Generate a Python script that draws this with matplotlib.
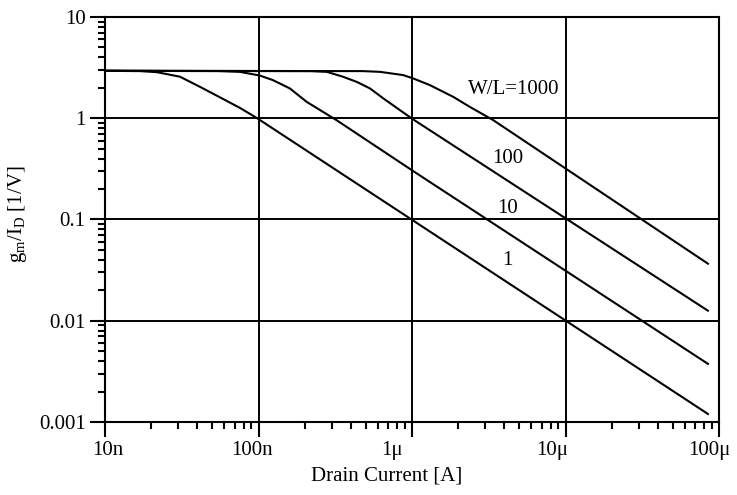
import matplotlib
matplotlib.use("Agg")
import matplotlib.pyplot as plt
import matplotlib.transforms as mtransforms
from matplotlib.ticker import FixedLocator, LogLocator, NullFormatter

plt.rcParams['font.family'] = ['Liberation Serif', 'DejaVu Serif']
plt.rcParams['mathtext.fontset'] = 'custom'
plt.rcParams['mathtext.rm'] = 'Liberation Serif'

# drain current [A] and gm/ID [1/V]
id_wl1 = [1e-8, 1.69e-8, 2.18e-8, 3.08e-8, 4.16e-8, 5.6e-8, 7.6e-8, 9.8e-8, 8.47e-5]
gm_wl1 = [2.94, 2.92, 2.85, 2.57, 2.04, 1.61, 1.26, 1.00, 0.0012]

id_wl10 = [1e-8, 5.5e-8, 7.57e-8, 1.02e-7, 1.24e-7, 1.6e-7, 2.06e-7, 3.23e-7, 1.02e-6, 8.47e-5]
gm_wl10 = [2.94, 2.92, 2.87, 2.64, 2.38, 1.97, 1.45, 0.955, 0.30, 0.00375]

id_wl100 = [1e-8, 2.2e-7, 2.79e-7, 3.55e-7, 4.38e-7, 5.32e-7, 6.5e-7, 1.0e-6, 8.47e-5]
gm_wl100 = [2.94, 2.92, 2.87, 2.57, 2.28, 1.97, 1.57, 0.99, 0.01256]

id_wl1000 = [1e-8, 4.8e-7, 6.2e-7, 8.73e-7, 1.02e-6, 1.31e-6, 1.85e-6, 2.39e-6, 3.39e-6, 8.47e-5]
gm_wl1000 = [2.94, 2.92, 2.87, 2.67, 2.47, 2.12, 1.63, 1.29, 0.955, 0.0366]

labels = ['W/L=1000', '100', '10', '1']
label_x = [4.6e-6, 4.2e-6, 4.2e-6, 4.2e-6]
label_y = [1.94, 0.40, 0.128, 0.039]

x_ticks = [1e-8, 1e-7, 1e-6, 1e-5, 1e-4]
x_ticklabels = ['10n', '100n', '1\u03bc', '10\u03bc', '100\u03bc']
y_ticks = [0.001, 0.01, 0.1, 1, 10]
y_ticklabels = ['0.001', '0.01', '0.1', '1', '10']

fig = plt.figure(figsize=(7.37, 4.95), dpi=100)
ax = fig.add_axes([0.1425, 0.1475, 0.9756 - 0.1425, 0.9657 - 0.1475])
ax.set_xscale('log')
ax.set_yscale('log')
ax.set_xlim(1e-8, 1e-4)
ax.set_ylim(1e-3, 10)

for xs, ys in [(id_wl1, gm_wl1), (id_wl10, gm_wl10),
               (id_wl100, gm_wl100), (id_wl1000, gm_wl1000)]:
    ax.plot(xs, ys, color='black', lw=1.5, solid_joinstyle='round')

for t, lx, ly in zip(labels, label_x, label_y):
    ax.text(lx, ly, t, fontsize=15, ha='center', va='center')

ax.grid(True, which='major', color='black', lw=1.4)
ax.set_axisbelow(True)

ax.xaxis.set_major_locator(FixedLocator(x_ticks))
ax.set_xticklabels(x_ticklabels)
ax.yaxis.set_major_locator(FixedLocator(y_ticks))
ax.set_yticklabels(y_ticklabels)
ax.xaxis.set_minor_locator(LogLocator(base=10, subs=range(2, 10), numticks=20))
ax.yaxis.set_minor_locator(LogLocator(base=10, subs=range(2, 10), numticks=20))
ax.xaxis.set_minor_formatter(NullFormatter())
ax.yaxis.set_minor_formatter(NullFormatter())

ax.tick_params(which='major', direction='out', length=11, width=1.5,
               labelsize=15, pad=3)
ax.tick_params(which='minor', direction='out', length=5, width=1.5)
for s in ax.spines.values():
    s.set_linewidth(1.5)

# the scanned labels sit a bit left of their ticks
shifts = [3, -7, -20, -13, -10]
for lab, dx in zip(ax.get_xticklabels(), shifts):
    lab.set_transform(lab.get_transform() +
                      mtransforms.ScaledTranslation(dx / 100, 0, fig.dpi_scale_trans))

ax.set_xlabel('Drain Current [A]', fontsize=15, va='center')
ax.xaxis.set_label_coords(0.458, -0.133)
ax.set_ylabel(r'g$_\mathrm{m}$/I$_\mathrm{D}$ [1/V]', fontsize=15, va='center')
ax.yaxis.set_label_coords(-0.143, 0.514)

fig.savefig('out.png', dpi=100)
